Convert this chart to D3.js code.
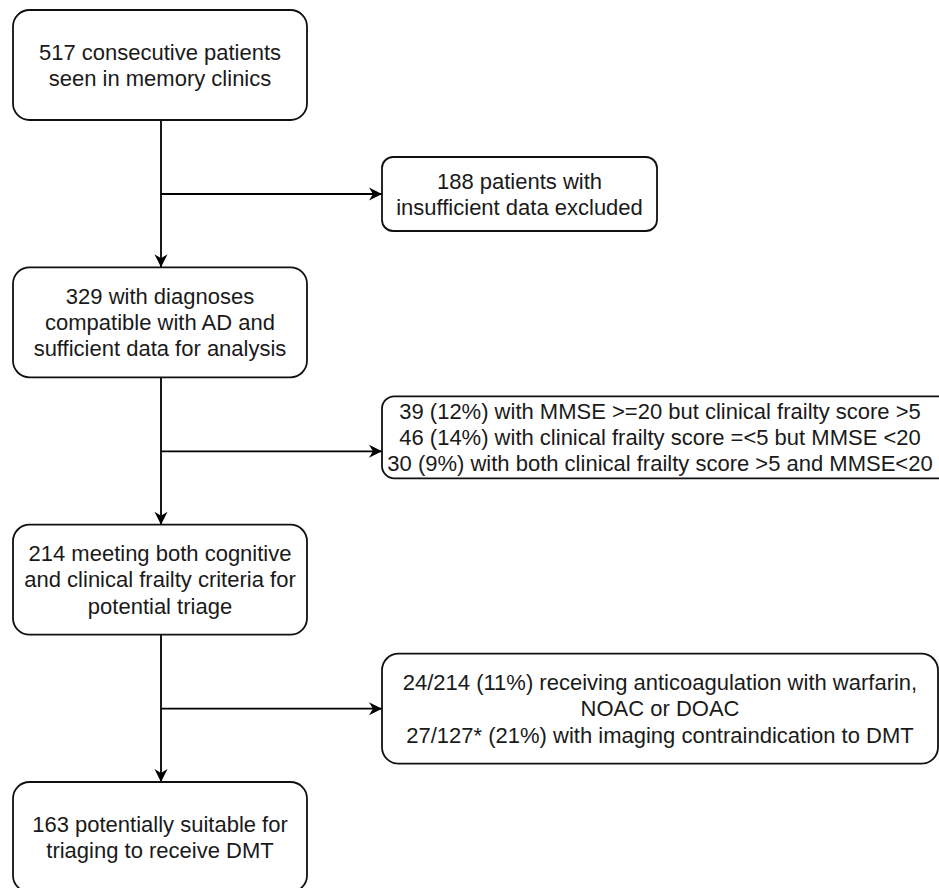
<!DOCTYPE html>
<html>
<head>
<meta charset="utf-8">
<script src="https://cdn.jsdelivr.net/npm/d3@7/dist/d3.min.js"></script>
<style>
	html, body { margin: 0; padding: 0; background: #fff; overflow: hidden; }
	svg { display: block; }
</style>
</head>
<body>
<svg id="chart" width="939" height="888"></svg>
<script>
// main column, top to bottom
const main_steps = [
	["517 consecutive patients", "seen in memory clinics"],
	["329 with diagnoses", "compatible with AD and", "sufficient data for analysis"],
	["214 meeting both cognitive", "and clinical frailty criteria for", "potential triage"],
	["163 potentially suitable for", "triaging to receive DMT"]
];
// exclusions branching off between steps
const exclusions = [
	["188 patients with", "insufficient data excluded"],
	["39 (12%) with MMSE >=20 but clinical frailty score >5",
	 "46 (14%) with clinical frailty score =<5 but MMSE <20",
	 "30 (9%) with both clinical frailty score >5 and MMSE<20"],
	["24/214 (11%) receiving anticoagulation with warfarin,",
	 "NOAC or DOAC",
	 "27/127* (21%) with imaging contraindication to DMT"]
];

const w = 939;
const h = 888;
const font_size = 22;
const line_h = 26.4;
const main_x = 13;
const main_w = 294;
const main_h = 110;
const side_x = 382;
// exclusion box sizes, offset of box top from the arrow line, text centre shift
const side_sizes = [[275, 74, -37, 0], [572, 82, -55, 1], [556, 110, -55, 0]];

const svg = d3.select("#chart");

// step index -> top of main box
const y_step = d3.scaleLinear().domain([0, 3]).range([10, 782]);
const spine_x = main_x + main_w / 2 + 1;

svg.append("defs").append("marker")
	.attr("id", "arrow")
	.attr("viewBox", "-14 -8 16 16")
	.attr("refX", 0)
	.attr("refY", 0)
	.attr("markerWidth", 16)
	.attr("markerHeight", 16)
	.attr("markerUnits", "userSpaceOnUse")
	.attr("orient", "auto")
	.append("path")
	.attr("d", "M0,0 L-13,-6.5 L-9,0 L-13,6.5 Z")
	.attr("fill", "#000");

function draw_box(x, y, bw, bh, lines, text_cx) {
	const r = Math.min(bw, bh) * 0.15;
	svg.append("rect")
		.attr("x", x).attr("y", y)
		.attr("width", bw).attr("height", bh)
		.attr("rx", r).attr("ry", r)
		.attr("fill", "#fff")
		.attr("stroke", "#111")
		.attr("stroke-width", 1.8);
	const cy = y + bh / 2;
	const txt = svg.append("text")
		.attr("text-anchor", "middle")
		.attr("font-family", "'Liberation Sans', Arial, Helvetica, sans-serif")
		.attr("font-size", font_size)
		.attr("fill", "#1a1a1a");
	lines.forEach((line, i) => {
		txt.append("tspan")
			.attr("x", text_cx)
			.attr("y", cy + (i - (lines.length - 1) / 2) * line_h)
			.attr("dy", "0.35em")
			.text(line);
	});
}

// connectors first so boxes sit on top
for (let i = 0; i < main_steps.length - 1; i++) {
	svg.append("line")
		.attr("x1", spine_x).attr("y1", y_step(i) + main_h)
		.attr("x2", spine_x).attr("y2", y_step(i + 1))
		.attr("stroke", "#000")
		.attr("stroke-width", 1.8)
		.attr("marker-end", "url(#arrow)");

	const branch_y = y_step(i) + 184;
	svg.append("line")
		.attr("x1", spine_x).attr("y1", branch_y)
		.attr("x2", side_x).attr("y2", branch_y)
		.attr("stroke", "#000")
		.attr("stroke-width", 1.8)
		.attr("marker-end", "url(#arrow)");
}

main_steps.forEach((lines, i) => {
	draw_box(main_x, y_step(i), main_w, main_h, lines, main_x + main_w / 2);
});

exclusions.forEach((lines, i) => {
	const s = side_sizes[i];
	// the wide box runs off the right edge, its text stays centred on the page area
	const cx = i == 1 ? 660 : side_x + s[0] / 2;
	draw_box(side_x, y_step(i) + 184 + s[2], s[0], s[1], lines, cx);
});
</script>
</body>
</html>
